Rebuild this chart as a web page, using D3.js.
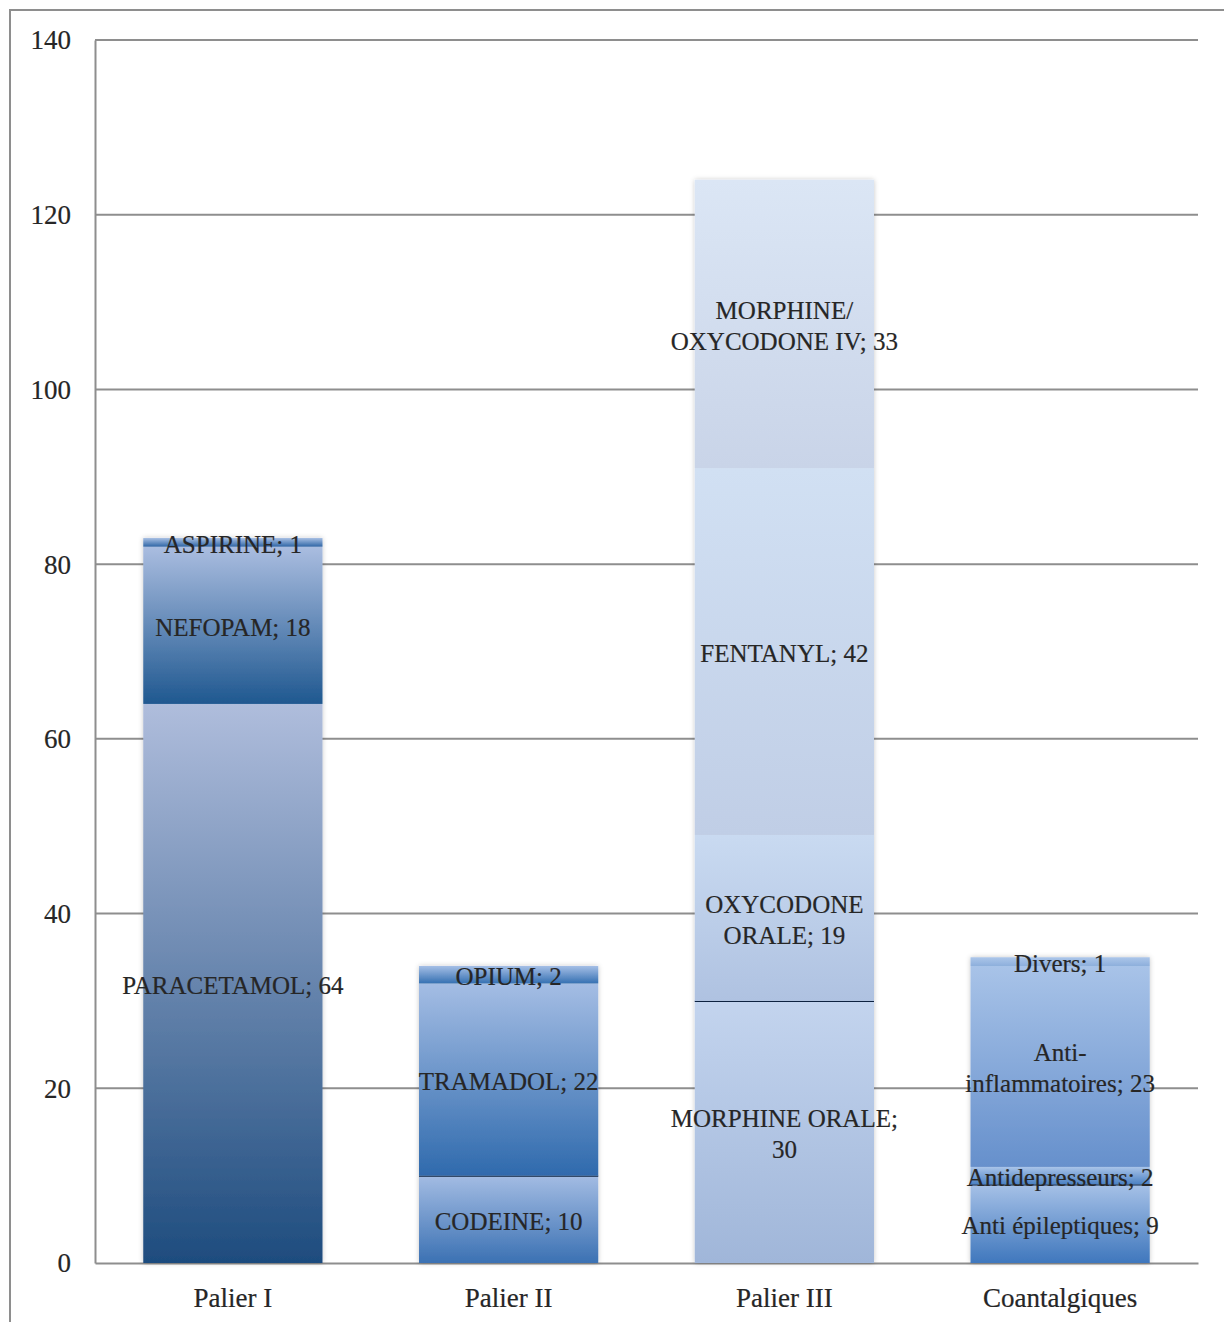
<!DOCTYPE html>
<html>
<head>
<meta charset="utf-8">
<script src="https://cdn.jsdelivr.net/npm/d3@7"></script>
<style>
  html, body { margin: 0; padding: 0; background: #fff; }
  svg { display: block; }
</style>
</head>
<body>
<svg id="chart" width="1224" height="1322"></svg>
<script>
// Categories along the x axis
const categories = ["Palier I", "Palier II", "Palier III", "Coantalgiques"];

// Stacked segments per category, bottom to top ("\n" marks a label line break)
const palierINames = ["PARACETAMOL", "NEFOPAM", "ASPIRINE"];
const palierIValues = [64, 18, 1];

const palierIINames = ["CODEINE", "TRAMADOL", "OPIUM"];
const palierIIValues = [10, 22, 2];

const palierIIINames = ["MORPHINE ORALE;\n", "OXYCODONE\nORALE", "FENTANYL", "MORPHINE/\nOXYCODONE IV"];
const palierIIIValues = [30, 19, 42, 33];

const coantalgiquesNames = ["Anti épileptiques", "Antidepresseurs", "Anti-\ninflammatoires", "Divers"];
const coantalgiquesValues = [9, 2, 23, 1];

const yTicks = [0, 20, 40, 60, 80, 100, 120, 140];

// Gradient fills (top colour, bottom colour) and separator flags per segment
const segmentStyles = [
  [
    { top: "#afbddc", bottom: "#1e4c7e" },
    { top: "#aabde0", bottom: "#1f5890" },
    { top: "#a9c0e4", bottom: "#2f66a6" }
  ],
  [
    { top: "#a3bce3", bottom: "#3b71b3", edge: true },
    { top: "#a4bde4", bottom: "#2f6aad" },
    { top: "#a5bfe6", bottom: "#3570b2" }
  ],
  [
    { top: "#c3d4ee", bottom: "#a0b6d9", edge: true },
    { top: "#c9daf1", bottom: "#afc2e1" },
    { top: "#d1e0f3", bottom: "#c0cee6" },
    { top: "#dbe6f5", bottom: "#c9d4e8" }
  ],
  [
    { top: "#a6c1e7", bottom: "#3f77bd", edge: true },
    { top: "#a9c4e9", bottom: "#4b81c3" },
    { top: "#a8c3e8", bottom: "#6690cc" },
    { top: "#acc6e9", bottom: "#8dafdc" }
  ]
];

const groups = [
  { names: palierINames, values: palierIValues },
  { names: palierIINames, values: palierIIValues },
  { names: palierIIINames, values: palierIIIValues },
  { names: coantalgiquesNames, values: coantalgiquesValues }
];

const svg = d3.select("#chart");
const W = 1224, H = 1322;
const plot = { left: 95, right: 1198, top: 40, bottom: 1263 };
const fontFamily = "'Liberation Serif', 'DejaVu Serif', serif";
const gridColor = "#8e8e8e";
const textColor = "#262626";

const x = d3.scaleBand().domain(categories).range([plot.left, plot.right]).padding(0);
const y = d3.scaleLinear().domain([0, 140]).range([plot.bottom, plot.top]);
const barWidth = x.bandwidth() * 0.65;

const defs = svg.append("defs");
const shadow = defs.append("filter").attr("id", "barShadow")
  .attr("x", "-10%").attr("y", "-5%").attr("width", "120%").attr("height", "110%");
shadow.append("feDropShadow").attr("dx", 0).attr("dy", 0).attr("stdDeviation", 2.5)
  .attr("flood-color", "#000").attr("flood-opacity", 0.22);

// Outer chart frame
svg.append("rect")
  .attr("x", 10).attr("y", 10).attr("width", W).attr("height", H)
  .attr("fill", "none").attr("stroke", gridColor).attr("stroke-width", 2);

// Horizontal gridlines
svg.append("g").selectAll("line").data(yTicks.filter(t => t > 0)).join("line")
  .attr("x1", plot.left).attr("x2", plot.right)
  .attr("y1", d => y(d)).attr("y2", d => y(d))
  .attr("stroke", gridColor).attr("stroke-width", 2);

// Slightly heavier serif glyphs
function styleText(sel, size) {
  sel.attr("font-family", fontFamily).attr("font-size", size)
    .attr("fill", textColor).attr("stroke", textColor).attr("stroke-width", 0.2);
}

// Y axis
const yAxis = d3.axisLeft(y).tickValues(yTicks).tickSize(0).tickPadding(24);
const gy = svg.append("g").attr("transform", `translate(${plot.left},0)`).call(yAxis);
gy.select(".domain").attr("stroke", gridColor).attr("stroke-width", 2);
gy.selectAll("text").call(styleText, 27).attr("dy", "0.33em");

// X axis
const xAxis = d3.axisBottom(x).tickSize(0).tickPadding(25);
const gx = svg.append("g").attr("transform", `translate(0,${plot.bottom})`).call(xAxis);
gx.select(".domain").attr("stroke", gridColor).attr("stroke-width", 2);
gx.selectAll("text").call(styleText, 27).attr("dy", "0.71em");

// Stacked bars
const bars = svg.append("g");
const labels = svg.append("g");

groups.forEach((g, gi) => {
  const cat = categories[gi];
  const cx = x(cat) + x.bandwidth() / 2;
  const x0 = cx - barWidth / 2;
  const barG = bars.append("g").attr("filter", "url(#barShadow)");
  let base = 0;
  g.values.forEach((v, si) => {
    const st = segmentStyles[gi][si];
    const gid = `grad-${gi}-${si}`;
    const lg = defs.append("linearGradient").attr("id", gid)
      .attr("x1", 0).attr("y1", 0).attr("x2", 0).attr("y2", 1);
    lg.append("stop").attr("offset", "0%").attr("stop-color", st.top);
    lg.append("stop").attr("offset", "100%").attr("stop-color", st.bottom);

    const yTop = y(base + v), yBot = y(base);
    barG.append("rect")
      .attr("x", x0).attr("y", yTop)
      .attr("width", barWidth).attr("height", yBot - yTop)
      .attr("fill", `url(#${gid})`);
    if (st.edge) {
      barG.append("line")
        .attr("x1", x0).attr("x2", x0 + barWidth)
        .attr("y1", yTop + 0.5).attr("y2", yTop + 0.5)
        .attr("stroke", "#0d2240").attr("stroke-width", 1.3);
    }

    // Segment label: name; value, centred in the segment
    const name = g.names[si];
    let lines;
    if (name.endsWith(";\n")) {
      lines = [name.slice(0, -1), String(v)];
    } else {
      const parts = name.split("\n");
      parts[parts.length - 1] = parts[parts.length - 1] + "; " + v;
      lines = parts;
    }
    const mid = y(base + v / 2);
    const lh = 31;
    const t = labels.append("text").call(styleText, 25).attr("text-anchor", "middle");
    lines.forEach((ln, li) => {
      t.append("tspan").attr("x", cx)
        .attr("y", mid + (li - (lines.length - 1) / 2) * lh)
        .attr("dy", "0.42em").text(ln);
    });
    base += v;
  });
});
</script>
</body>
</html>
